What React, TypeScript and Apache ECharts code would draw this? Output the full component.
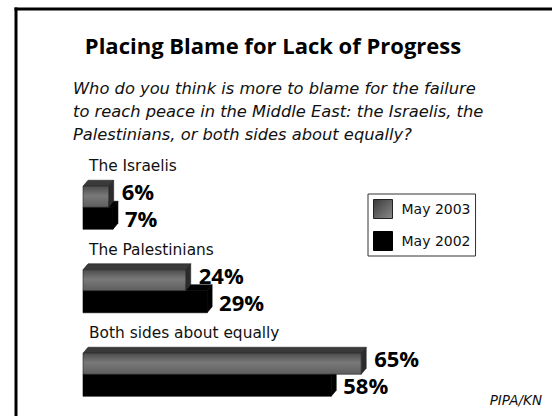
import React, { useEffect, useRef } from "react";
import * as echarts from "echarts";

const categories = ["The Israelis", "The Palestinians", "Both sides about equally"];
const may2003 = [6, 24, 65];
const may2002 = [7, 29, 58];
const seriesNames = ["May 2003", "May 2002"];

const TITLE = "Placing Blame for Lack of Progress";
const SUBTITLE_LINES = [
  "Who do you think is more to blame for the failure",
  "to reach peace in the Middle East: the Israelis, the",
  "Palestinians, or both sides about equally?",
];
const SOURCE = "PIPA/KN";

const DX = 5;
const DY = 6;
const H_GRAY = 21;
const H_BLACK = 22;
const FONT = "'DejaVu Sans', Verdana, sans-serif";
const BOLD_FONT = "'Open Sans', 'Liberation Sans', sans-serif";

const grayFront = new echarts.graphic.LinearGradient(0, 0, 0, 1, [
  { offset: 0, color: "#4c4c4c" },
  { offset: 0.45, color: "#797979" },
  { offset: 1, color: "#5e5e5e" },
]);
const legendGray = new echarts.graphic.LinearGradient(0, 0, 1, 1, [
  { offset: 0, color: "#3a3a3a" },
  { offset: 1, color: "#8a8a8a" },
]);

function makeRender(kind: "gray" | "black") {
  return (params: any, api: any) => {
    const val = api.value(0);
    const cat = api.value(1);
    const start = api.coord([0, cat]);
    const end = api.coord([val, cat]);
    const cy = start[1];
    const x0 = start[0];
    const x1 = end[0];
    const h = kind === "gray" ? H_GRAY : H_BLACK;
    const y0 = kind === "gray" ? cy - H_GRAY : cy;
    const isGray = kind === "gray";
    const children: any[] = [
      {
        type: "polygon",
        shape: { points: [[x0, y0], [x0 + DX, y0 - DY], [x1 + DX, y0 - DY], [x1, y0]] },
        style: { fill: isGray ? "#3a3a3a" : "#000", stroke: isGray ? "#222" : "#000", lineWidth: 0.6 },
      },
      {
        type: "polygon",
        shape: { points: [[x1, y0], [x1 + DX, y0 - DY], [x1 + DX, y0 + h - DY], [x1, y0 + h]] },
        style: { fill: isGray ? "#2c2c2c" : "#000", stroke: isGray ? "#222" : "#000", lineWidth: 0.6 },
      },
      {
        type: "rect",
        shape: { x: x0, y: y0, width: x1 - x0, height: h },
        style: { fill: isGray ? grayFront : "#000", stroke: isGray ? "#222" : "#000", lineWidth: 0.6 },
      },
      {
        type: "text",
        x: x1 + (isGray ? 13 : 12),
        y: cy + (isGray ? -16 : 11),
        style: {
          text: val + "%",
          fill: "#000",
          font: `bold 22px ${BOLD_FONT}`,
          textVerticalAlign: "middle",
          textAlign: "left",
        },
      },
    ];
    if (isGray) {
      children.push({
        type: "text",
        x: x0 + 6,
        y: cy - 41,
        style: {
          text: categories[cat],
          fill: "#111",
          font: `15.4px ${FONT}`,
          textVerticalAlign: "middle",
          textAlign: "left",
        },
      });
    }
    return { type: "group", children };
  };
}

export default function App() {
  const ref = useRef<HTMLDivElement>(null);
  useEffect(() => {
    if (!ref.current) return;
    document.documentElement.style.overflow = "hidden";
    document.body.style.overflow = "hidden";
    document.body.style.margin = "0";
    const chart = echarts.init(ref.current, null, { renderer: "svg" });
    chart.setOption({
      animation: false,
      backgroundColor: "#fff",
      grid: { left: 83, width: 428, top: 165.5, height: 255 },
      xAxis: { type: "value", min: 0, max: 100, show: false },
      yAxis: { type: "category", data: categories, inverse: true, show: false },
      legend: {
        orient: "vertical",
        left: 368,
        top: 194,
        itemWidth: 19,
        itemHeight: 19,
        itemGap: 12,
        padding: [5, 5, 5, 5],
        borderColor: "#333",
        borderWidth: 1,
        textStyle: { fontSize: 14, fontFamily: FONT, color: "#111", padding: [0, 0, 0, 4] },
        data: [
          { name: seriesNames[0], icon: "rect", itemStyle: { color: legendGray, borderColor: "#222", borderWidth: 1 } },
          { name: seriesNames[1], icon: "rect", itemStyle: { color: "#000", borderColor: "#000", borderWidth: 1 } },
        ],
      },
      graphic: [
        {
          type: "line",
          shape: { x1: 14.5, y1: 9, x2: 552, y2: 9 },
          style: { stroke: "#000", lineWidth: 3 },
          silent: true,
        },
        {
          type: "line",
          shape: { x1: 16, y1: 7.5, x2: 16, y2: 416 },
          style: { stroke: "#000", lineWidth: 3 },
          silent: true,
        },
        {
          type: "text",
          x: 273,
          y: 45,
          style: {
            text: TITLE,
            font: `bold 22px ${BOLD_FONT}`,
            fill: "#000",
            textAlign: "center",
            textVerticalAlign: "middle",
          },
        },
        ...SUBTITLE_LINES.map((t, i) => ({
          type: "text",
          x: 73,
          y: 88 + i * 23,
          style: {
            text: t,
            font: `italic 16.3px ${FONT}`,
            fill: "#111",
            textAlign: "left",
            textVerticalAlign: "middle",
          },
        })),
        {
          type: "text",
          x: 542,
          y: 400,
          style: {
            text: SOURCE,
            font: `italic 13.5px ${FONT}`,
            fill: "#111",
            textAlign: "right",
            textVerticalAlign: "middle",
          },
        },
      ],
      series: [
        {
          name: seriesNames[1],
          type: "custom",
          renderItem: makeRender("black"),
          encode: { x: 0, y: 1 },
          itemStyle: { color: "#000" },
          data: may2002.map((v, i) => [v, i]),
          z: 2,
        },
        {
          name: seriesNames[0],
          type: "custom",
          renderItem: makeRender("gray"),
          encode: { x: 0, y: 1 },
          itemStyle: { color: "#666" },
          data: may2003.map((v, i) => [v, i]),
          z: 3,
        },
      ],
    });
    return () => chart.dispose();
  }, []);
  return (
    <div
      ref={ref}
      style={{ position: "absolute", left: 0, top: 0, width: 552, height: 416, overflow: "hidden" }}
    />
  );
}
